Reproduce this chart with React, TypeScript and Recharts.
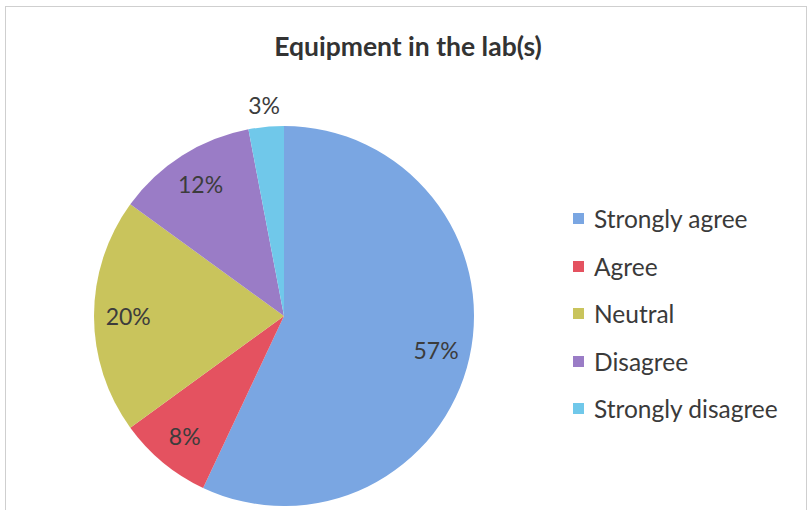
import { Cell, Legend, Pie, PieChart } from "recharts";

const categorias = [
  "Strongly agree",
  "Agree",
  "Neutral",
  "Disagree",
  "Strongly disagree",
];
const porcentajes = [57, 8, 20, 12, 3];
const colores = ["#7aa6e2", "#e45260", "#c9c45c", "#9a7cc6", "#70c8ea"];

const datos = categorias.map((nombre, i) => ({ nombre, valor: porcentajes[i] }));

const RAD = Math.PI / 180;
const FUENTE = "Lato, 'Open Sans', sans-serif";

function Etiqueta(props: any) {
  const { cx, cy, midAngle, outerRadius, value } = props;
  const r = value < 5 ? outerRadius + 22 : outerRadius * 0.82;
  const x = cx + r * Math.cos(-midAngle * RAD);
  const y = cy + r * Math.sin(-midAngle * RAD);
  return (
    <text
      x={x}
      y={y}
      textAnchor="middle"
      dominantBaseline="central"
      fill="#3c3c3c"
      fontSize={23}
      fontFamily={FUENTE}
    >
      {value}%
    </text>
  );
}

function Leyenda({ payload }: any) {
  const items = [...(payload ?? [])].sort(
    (a: any, b: any) => categorias.indexOf(a.value) - categorias.indexOf(b.value)
  );
  return (
    <div style={{ fontFamily: FUENTE }}>
      {items.map((p: any) => (
        <div
          key={p.value}
          style={{ display: "flex", alignItems: "center", height: 47.5 }}
        >
          <span
            style={{
              width: 11,
              height: 11,
              background: p.color,
              marginRight: 10,
              display: "inline-block",
            }}
          />
          <span style={{ fontSize: 24.5, color: "#3a3a3a" }}>{p.value}</span>
        </div>
      ))}
    </div>
  );
}

export default function App() {
  return (
    <div
      style={{
        position: "absolute",
        left: 0,
        top: 0,
        width: 809,
        height: 510,
        background: "#fff",
        overflow: "hidden",
      }}
    >
      <div
        style={{
          position: "absolute",
          left: 5,
          top: 6,
          width: 800,
          height: 520,
          border: "1px solid #cfcfcf",
        }}
      />
      <div
        style={{
          position: "absolute",
          left: 0,
          width: 816,
          top: 30,
          textAlign: "center",
          fontFamily: FUENTE,
          fontWeight: 700,
          fontSize: 26.5,
          color: "#333",
        }}
      >
        Equipment in the lab(s)
      </div>
      <PieChart
        width={809}
        height={510}
        margin={{ top: 0, right: 0, bottom: 0, left: 0 }}
        style={{ position: "absolute", left: 0, top: 0 }}
      >
        <Pie
          data={datos}
          dataKey="valor"
          nameKey="nombre"
          cx={284}
          cy={316}
          outerRadius={190}
          startAngle={90}
          endAngle={-270}
          stroke="none"
          label={Etiqueta}
          labelLine={false}
          isAnimationActive={false}
        >
          {datos.map((d, i) => (
            <Cell key={d.nombre} fill={colores[i]} />
          ))}
        </Pie>
        <Legend
          layout="vertical"
          content={<Leyenda />}
          wrapperStyle={{ left: 573, top: 195, width: 236 }}
        />
      </PieChart>
    </div>
  );
}
